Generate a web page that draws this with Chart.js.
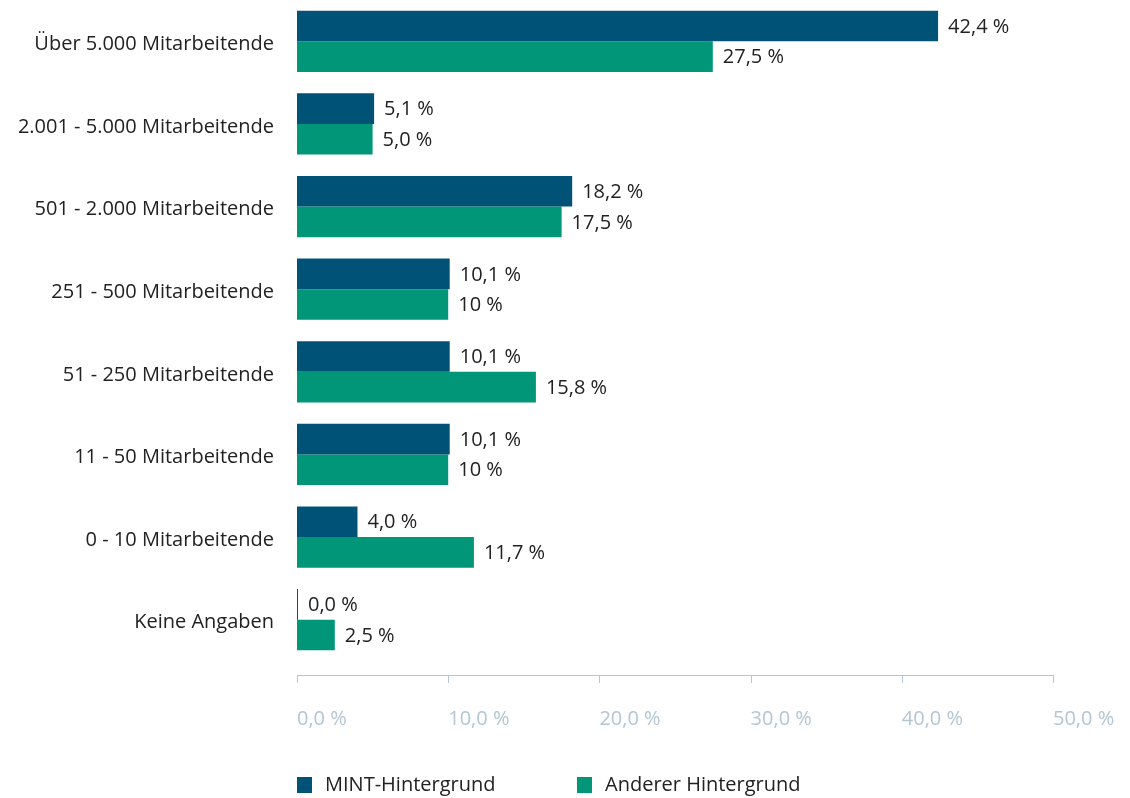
<!DOCTYPE html>
<html>
<head>
<meta charset="utf-8">
<script src="https://cdn.jsdelivr.net/npm/chart.js@4"></script>
<style>
  html, body { margin: 0; padding: 0; background: #fff; }
  #wrap { width: 1130px; height: 798px; position: relative; }
  canvas { display: block; }
</style>
</head>
<body>
<div id="wrap"><canvas id="chart" width="1130" height="798"></canvas></div>
<script>
var categories = ['Über 5.000 Mitarbeitende', '2.001 - 5.000 Mitarbeitende', '501 - 2.000 Mitarbeitende',
    '251 - 500 Mitarbeitende', '51 - 250 Mitarbeitende', '11 - 50 Mitarbeitende', '0 - 10 Mitarbeitende', 'Keine Angaben'];
var mint = [42.4, 5.1, 18.2, 10.1, 10.1, 10.1, 4.0, 0.0];
var anderer = [27.5, 5.0, 17.5, 10, 15.8, 10, 11.7, 2.5];
var mintLabels = ['42,4 %', '5,1 %', '18,2 %', '10,1 %', '10,1 %', '10,1 %', '4,0 %', '0,0 %'];
var andererLabels = ['27,5 %', '5,0 %', '17,5 %', '10 %', '15,8 %', '10 %', '11,7 %', '2,5 %'];
var xTicks = [0, 10, 20, 30, 40, 50];

var FONT = "'Open Sans', sans-serif";
var FS = 20;
var axisColor = '#b3c6d3';

// value labels at the end of each bar
var valueLabels = {
    id: 'valueLabels',
    afterDatasetsDraw: function(chart) {
        var ctx = chart.ctx;
        var texts = [mintLabels, andererLabels];
        ctx.save();
        ctx.font = FS + 'px ' + FONT;
        ctx.fillStyle = '#222';
        ctx.textBaseline = 'middle';
        ctx.textAlign = 'left';
        chart.data.datasets.forEach(function(ds, i) {
            chart.getDatasetMeta(i).data.forEach(function(bar, j) {
                ctx.fillText(texts[i][j], bar.x + 10, bar.y + 1);
            });
        });
        ctx.restore();
    }
};

// x axis line sits a bit below the plot, with ticks hanging down
var axisLine = {
    id: 'axisLine',
    afterDraw: function(chart) {
        var ctx = chart.ctx;
        var x = chart.scales.x;
        var y = chart.chartArea.bottom + 14;
        ctx.save();
        ctx.strokeStyle = axisColor;
        ctx.lineWidth = 1;
        ctx.beginPath();
        ctx.moveTo(x.getPixelForValue(0), y + 0.5);
        ctx.lineTo(x.getPixelForValue(50), y + 0.5);
        xTicks.forEach(function(t) {
            var px = Math.round(x.getPixelForValue(t)) + 0.5;
            ctx.moveTo(px, y);
            ctx.lineTo(px, y + 8);
        });
        ctx.stroke();
        ctx.restore();
    }
};

// legend under the axis, starting at the plot's left edge
var bottomLegend = {
    id: 'bottomLegend',
    afterDraw: function(chart) {
        var ctx = chart.ctx;
        var left = chart.chartArea.left;
        var y = 785;
        var offsets = [0, 280];
        ctx.save();
        ctx.font = FS + 'px ' + FONT;
        ctx.textBaseline = 'middle';
        chart.data.datasets.forEach(function(ds, i) {
            var x = left + offsets[i];
            ctx.fillStyle = ds.backgroundColor;
            ctx.fillRect(x, y - 8, 15, 16);
            ctx.fillStyle = '#222';
            ctx.fillText(ds.label, x + 28, y);
        });
        ctx.restore();
    }
};

var ctx = document.getElementById('chart').getContext('2d');
var chart = new Chart(ctx, {
    type: 'bar',
    data: {
        labels: categories,
        datasets: [{
            label: 'MINT-Hintergrund',
            data: mint,
            backgroundColor: '#005377',
            minBarLength: 1,
            barPercentage: 1,
            categoryPercentage: 0.74
        }, {
            label: 'Anderer Hintergrund',
            data: anderer,
            backgroundColor: '#009677',
            barPercentage: 1,
            categoryPercentage: 0.74
        }]
    },
    options: {
        indexAxis: 'y',
        responsive: false,
        animation: false,
        layout: { padding: { top: 0, right: 77, bottom: 57, left: 0 } },
        plugins: {
            legend: { display: false },
            tooltip: { enabled: false }
        },
        scales: {
            x: {
                min: 0,
                max: 50,
                afterBuildTicks: function(scale) {
                    scale.ticks = xTicks.map(function(v) { return { value: v }; });
                },
                afterFit: function(scale) {
                    scale.height = 80;
                    scale.paddingLeft = 0;
                    scale.paddingRight = 0;
                },
                grid: { display: false },
                border: { display: false },
                ticks: {
                    autoSkip: false,
                    maxRotation: 0,
                    align: 'start',
                    padding: 38,
                    color: axisColor,
                    font: { family: FONT, size: FS },
                    callback: function(v) { return v.toFixed(1).replace('.', ',') + ' %'; }
                }
            },
            y: {
                afterFit: function(scale) {
                    scale.width = 297;
                    scale.paddingTop = 0;
                    scale.paddingBottom = 0;
                },
                grid: { display: false },
                border: { display: false },
                ticks: {
                    padding: 15,
                    labelOffset: 3,
                    color: '#222',
                    font: { family: FONT, size: FS }
                }
            }
        }
    },
    plugins: [valueLabels, axisLine, bottomLegend]
});
</script>
</body>
</html>
